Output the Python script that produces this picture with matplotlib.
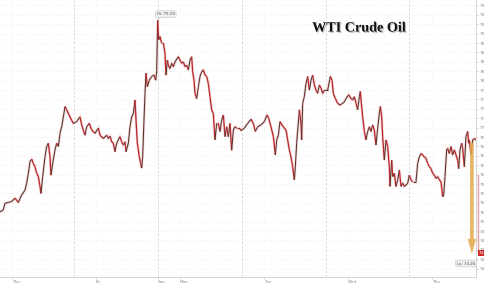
import matplotlib
matplotlib.use('Agg')
import matplotlib.pyplot as plt
import matplotlib.transforms as mtransforms
import matplotlib.patheffects as pe
from matplotlib.collections import LineCollection
from matplotlib.patches import FancyArrowPatch

# ---- data (hours of trading time since Thu 00:00, price in $) ----
hours = [-3.43, -2.48, -2.00, -1.05, -0.10, 0.86, 1.81, 2.76, 3.71, 4.19, 4.67, 5.14, 5.62, 6.09,
         6.57, 7.05, 7.52, 8.00, 8.29, 8.76, 9.43, 9.90, 10.38, 10.86, 11.14, 11.62, 12.29, 12.76,
         13.24, 13.71, 14.19, 14.67, 15.14, 15.62, 16.57, 17.52, 18.48, 19.43, 19.90, 20.38, 20.86,
         21.33, 22.10, 22.76, 23.71, 24.67, 25.14, 26.10, 27.05, 27.52, 28.00, 28.48, 28.95, 29.43,
         29.90, 30.86, 31.33, 31.81, 32.29, 32.57, 33.24, 33.71, 34.19, 34.67, 35.14, 35.43, 35.81,
         36.38, 36.76, 37.05, 37.33, 37.71, 38.00, 38.29, 38.67, 39.24, 39.90, 40.57, 41.05, 41.33,
         41.62, 41.90, 42.29, 42.76, 43.24, 43.71, 44.00, 44.38, 44.67, 45.14, 45.62, 46.10, 46.57,
         47.52, 48.00, 48.48, 48.95, 49.43, 49.90, 50.38, 50.86, 51.33, 51.62, 52.00, 52.29, 52.76,
         53.24, 53.71, 54.19, 54.67, 55.14, 55.62, 56.10, 56.57, 57.05, 57.52, 58.00, 58.48, 58.95,
         59.43, 59.90, 60.38, 60.86, 61.33, 61.81, 62.29, 62.76, 63.24, 63.71, 64.19, 64.95, 65.43,
         66.38, 67.33, 68.29, 68.95, 69.52, 70.19, 71.14, 72.10, 72.86, 73.33, 74.00, 74.67, 75.24,
         75.62, 76.10, 76.57, 77.14, 77.81, 78.29, 78.76, 79.24, 79.71, 80.19, 80.67, 80.95, 81.33,
         81.71, 82.10, 82.57, 82.76, 83.05, 83.52, 84.00, 84.48, 84.95, 85.43, 85.90, 86.38, 86.86,
         87.33, 87.81, 88.29, 88.76, 89.24, 90.19, 90.95, 91.43, 91.81, 92.38, 93.05, 93.71, 94.48,
         94.95, 95.43, 96.19, 96.86, 97.33, 97.81, 98.29, 98.76, 99.24, 99.52, 99.81, 100.19, 100.67,
         101.14, 101.62, 102.10, 102.57, 103.05, 103.52, 104.00, 104.48, 104.95, 105.24, 105.62,
         105.90, 106.38, 106.86, 107.33, 107.81, 108.00, 108.48, 108.76, 109.24, 109.71, 110.19,
         110.67, 111.14, 111.62, 112.10, 112.57, 113.05, 113.52, 114.00, 114.48, 115.43, 115.90,
         116.38, 116.86, 117.33, 117.81, 118.29, 118.76, 119.24, 119.71, 120.19, 120.67, 121.14,
         121.62, 122.10, 122.57, 123.05, 123.33, 123.71, 124.19, 124.48, 124.95, 125.43, 125.90,
         126.38, 126.86, 127.33, 127.62, 128.00, 128.48, 128.76, 129.24, 129.71, 130.19, 130.48,
         130.67, 131.14, 131.62, 132.10, 132.57]
prices = [75.21, 75.25, 75.39, 75.41, 75.43, 75.50, 75.41, 75.57, 75.67, 75.82, 76.03, 76.28, 76.33, 76.24,
          76.17, 76.03, 75.96, 75.75, 75.60, 75.96, 76.38, 76.60, 76.67, 76.38, 75.99, 76.24, 76.53, 76.67,
          76.60, 76.88, 77.02, 77.23, 77.45, 77.38, 77.23, 77.09, 77.13, 77.23, 77.06, 76.95, 76.84,
          77.02, 77.09, 76.95, 76.88, 76.99, 76.84, 76.77, 76.84, 76.77, 76.82, 76.70, 76.67, 76.49,
          76.67, 76.81, 76.70, 76.63, 76.70, 76.49, 76.67, 77.02, 77.23, 77.30, 77.59, 77.16, 76.67,
          76.38, 76.24, 76.14, 76.38, 77.16, 77.73, 78.16, 77.87, 78.01, 78.09, 78.12, 78.01, 78.19,
          79.29, 78.87, 78.94, 78.80, 78.80, 78.58, 78.12, 78.44, 78.33, 78.26, 78.37, 78.30, 78.40,
          78.51, 78.44, 78.37, 78.40, 78.30, 78.33, 78.23, 78.44, 78.51, 78.19, 78.01, 77.73, 77.62,
          77.87, 78.09, 78.19, 78.23, 78.12, 78.09, 77.94, 77.66, 77.38, 77.30, 76.74, 77.09, 77.09,
          76.92, 77.16, 77.27, 76.81, 77.02, 76.81, 77.09, 76.52, 76.95, 77.02, 76.99, 76.99, 76.94,
          76.99, 77.09, 77.18, 77.09, 76.92, 77.02, 77.06, 77.13, 77.27, 77.20, 77.02, 76.81, 76.42,
          76.74, 76.84, 77.13, 77.06, 76.99, 76.95, 76.74, 76.53, 76.38, 76.17, 75.89, 76.17, 76.67,
          77.02, 77.38, 77.09, 76.74, 77.52, 77.66, 77.94, 78.09, 77.80, 78.01, 78.12, 77.91, 77.80,
          77.73, 77.91, 77.84, 77.73, 77.80, 77.80, 78.09, 78.01, 77.73, 77.62, 77.52, 77.48, 77.52,
          77.55, 77.62, 77.70, 77.62, 77.59, 77.66, 77.52, 77.38, 77.66, 77.77, 77.52, 77.23, 76.92,
          76.74, 76.92, 77.02, 76.92, 77.06, 76.95, 76.63, 76.99, 77.31, 77.45, 77.23,
          76.81, 76.31, 76.74, 76.60, 76.17, 75.75, 76.31, 75.96, 76.03, 75.75, 75.89,
          76.10, 75.75, 75.82, 75.75, 75.78, 75.82, 75.99, 75.89, 75.85, 75.85, 76.24,
          76.38, 76.45, 76.42, 76.38, 76.35, 76.24, 76.17, 76.13, 76.03, 75.99, 75.92,
          75.96, 75.89, 75.85, 75.53, 75.57, 75.96, 76.53, 76.56, 76.45, 76.60, 76.42,
          76.53, 76.42, 76.31, 76.13, 76.53, 76.67, 76.56, 76.17, 76.81, 76.92, 76.67,
          76.74, 76.42, 76.74, 76.77, 76.74]

final_bar_hour = 133.1
final_bar_high = 75.99
final_bar_low = 74.33
last_price = 74.33
hi_value = 79.29
hi_hour = 41.62
lo_value = 74.26
arrow_hour = 131.4
arrow_from = 76.74
arrow_to = 74.25

day_ticks = [0, 24, 41.7, 48, 72, 96, 120]
day_labels = ['Thu', 'Fri', 'Sun', 'Mon', 'Tue', 'Wed', 'Thu']
session_starts = [17.7, 41.6, 65.6, 89.6, 113.4]
price_ticks = [74.0, 74.2, 74.4, 74.6, 74.8, 75.0, 75.2, 75.4, 75.6, 75.8, 76.0, 76.2, 76.4, 76.6,
               76.8, 77.0, 77.2, 77.4, 77.6, 77.8, 78.0, 78.2, 78.4, 78.6, 78.8, 79.0, 79.2, 79.4, 79.6]

# ---- figure ----
fig = plt.figure(figsize=(4.85, 2.83), dpi=100)
ax = fig.add_axes([0.0, 6 / 283, 476 / 485, 277 / 283])
ax.set_xlim(-3.43, 132.57)
ax.set_ylim(73.823, 79.717)

# grid
for t in price_ticks:
    ax.axhline(t, color='#ececec', lw=0.5, ls=(0, (1, 1.5)), zorder=0)
for s in session_starts:
    ax.axvline(s, color='#d4d4d4', lw=0.6, ls=(0, (3, 2)), zorder=0)
for d in day_ticks:
    ax.axvline(d, color='#f2f2f2', lw=0.5, ls=(0, (1, 1.5)), zorder=0)

# price line, coloured by direction (down bars red, up bars dark)
segs = []
cols = []
widths = []
for i in range(1, len(prices)):
    segs.append([(hours[i - 1], prices[i - 1]), (hours[i], prices[i])])
    if prices[i] < prices[i - 1]:
        cols.append('#b8282c')
        widths.append(0.95)
    else:
        cols.append('#5a3530')
        widths.append(0.8)
ax.plot(hours, prices, color='#e9a5a5', lw=2.0, alpha=0.35, zorder=2, solid_joinstyle='miter')
ax.add_collection(LineCollection(segs, colors=cols, linewidths=widths, zorder=3))

# last (falling) bar
ax.plot([final_bar_hour, final_bar_hour], [final_bar_low, final_bar_high], color='#eaa0a0',
        lw=1.0, clip_on=False, zorder=3)

# arrow
arr = FancyArrowPatch((arrow_hour, arrow_from), (arrow_hour, arrow_to),
                      arrowstyle='simple,head_length=1.1,head_width=0.6,tail_width=0.26',
                      mutation_scale=10, color='#e2ad52', alpha=0.9, lw=0, zorder=5)
ax.add_patch(arr)

# hi / lo labels
ax.annotate(f'Hi: {hi_value:.2f}', xy=(hi_hour, hi_value), xytext=(41.4, 79.415),
            fontsize=2.8, ha='left', va='center', color='#555555',
            bbox=dict(boxstyle='round,pad=0.35', fc='#eeeeee', ec='#c8c8c8', lw=0.4),
            arrowprops=dict(arrowstyle='-', color='#bbbbbb', lw=0.4, shrinkA=0, shrinkB=0),
            zorder=6)
ax.text(132.3, 74.11, f'Lo: {lo_value:.2f}', fontsize=2.8, ha='right', va='center', color='#555555',
        bbox=dict(boxstyle='round,pad=0.35', fc='#eeeeee', ec='#c8c8c8', lw=0.4), zorder=6)

# current price tag
trans = mtransforms.blended_transform_factory(ax.transAxes, ax.transData)
ax.text(1.006, last_price, f'{last_price:.2f}', transform=trans, fontsize=3, color='white',
        ha='left', va='center', clip_on=False,
        bbox=dict(boxstyle='square,pad=0.3', fc='#cc2a2a', ec='none'), zorder=7)

# axes styling
ax.yaxis.tick_right()
ax.set_yticks(price_ticks)
ax.set_yticklabels([f'{t:g}' for t in price_ticks])
ax.set_xticks(day_ticks)
ax.set_xticklabels(day_labels)
for lbl in ax.get_xticklabels():
    lbl.set_ha('left')
ax.tick_params(axis='y', length=1.5, width=0.4, colors='#aaaaaa', labelcolor='#888888',
               labelsize=3, pad=1.2)
ax.tick_params(axis='x', length=1.5, width=0.4, colors='#aaaaaa', labelcolor='#888888',
               labelsize=3, pad=0.8)
for sp in ['top', 'left']:
    ax.spines[sp].set_visible(False)
for sp in ['right', 'bottom']:
    ax.spines[sp].set_color('#cfcfcf')
    ax.spines[sp].set_linewidth(0.6)

# title
fig.text(0.740, 0.901, 'WTI Crude Oil', fontsize=10.2, fontweight='bold',
         family=['Liberation Serif', 'DejaVu Serif'], ha='center', va='center', color='#111111',
         path_effects=[pe.SimplePatchShadow(offset=(0.8, -0.8), shadow_rgbFace='#888888', alpha=0.6),
                       pe.Normal()])

fig.savefig('out.png', dpi=100, facecolor='white')
